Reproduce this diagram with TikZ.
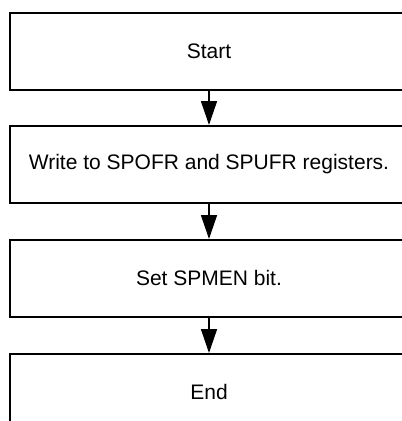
\documentclass[tikz,border=0pt]{standalone}
\usepackage{fontspec}
\setmainfont{Liberation Sans}
\usetikzlibrary{arrows.meta}
\begin{document}
\begin{tikzpicture}[x=1bp,y=-1bp,
  flowbox/.style={draw, line width=1.6bp, minimum width=398bp, minimum height=77bp,
    inner sep=0pt, font=\fontsize{21bp}{25bp}\selectfont, anchor=north},
  flowarrow/.style={line width=1.6bp, -{Triangle[length=24bp,width=16bp]}}]
\useasboundingbox (0,0) rectangle (402,421);
\clip (0,0) rectangle (402,421);
\node[flowbox] (b1) at (209,12) {Start};
\node[flowbox] (b2) at (209,125) {Write to SPOFR and SPUFR registers.};
\node[flowbox] (b3) at (209,239) {Set SPMEN bit.};
\node[flowbox] (b4) at (209,353) {End};
\draw[flowarrow] (b1.south) -- (b2.north);
\draw[flowarrow] (b2.south) -- (b3.north);
\draw[flowarrow] (b3.south) -- (b4.north);
\end{tikzpicture}
\end{document}
